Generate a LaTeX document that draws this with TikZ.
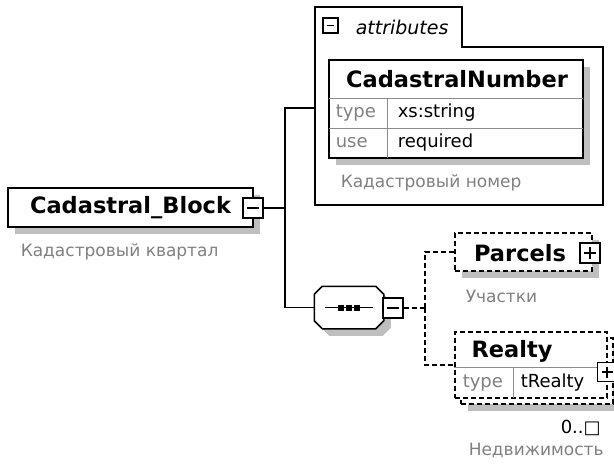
\documentclass[tikz,border=0pt]{standalone}
\usepackage{fontspec}
\setmainfont{DejaVu Sans}
\usetikzlibrary{positioning,shadows}

\begin{document}
\begin{tikzpicture}[x=1pt,y=-1pt,line width=1.5pt,
    elem/.style={draw,fill=white,inner sep=0,font=\fontsize{22.5}{26}\selectfont\bfseries},
    shade/.style={drop shadow={shadow xshift=7pt,shadow yshift=-7pt,fill=black!25,opacity=1}},
    opt/.style={elem,dash pattern=on 5pt off 3pt},
    pmbox/.style={draw,fill=white,inner sep=0,minimum size=20pt,line width=1.2pt},
    minus/.style={pmbox,path picture={\draw[line width=1.2pt] ([xshift=4pt]path picture bounding box.west) -- ([xshift=-4pt]path picture bounding box.east);}},
    plus/.style={pmbox,path picture={\draw[line width=1.2pt] ([xshift=4pt]path picture bounding box.west) -- ([xshift=-4pt]path picture bounding box.east) ([yshift=-4pt]path picture bounding box.north) -- ([yshift=4pt]path picture bounding box.south);}},
    note/.style={anchor=west,inner sep=0,text=black!50,font=\fontsize{17}{20}\selectfont},
    cell/.style={anchor=west,inner sep=0,font=\fontsize{18}{21}\selectfont}]
    \useasboundingbox (0,0) rectangle (614,466);

    % root element
    \node[elem,shade,minimum width=245pt,minimum height=39pt] (block) at (130.5,207.5) {Cadastral\_Block};
    \node[minus] (blockpm) at (253,208) {};
    \node[note] (blocknote) at (20,252) {Кадастровый квартал};

    % attributes
    \draw (315,7) -- (462,7) -- (462,47) -- (603,47) -- (603,205) -- (315,205) -- cycle;
    \node[minus,minimum size=15pt] (attrpm) at (330.5,25.5) {};
    \node[anchor=west,inner sep=0,font=\fontsize{19}{22}\selectfont\itshape] (attrlbl) at (355,27) {attributes};
    \coordinate (attrin) at (315,108);
    \node[elem,shade,minimum width=254pt,minimum height=98pt] (cnum) at (456,109) {};
    \node[font=\fontsize{22.5}{26}\selectfont\bfseries] (cnumname) at (457,79) {CadastralNumber};
    \draw[black!45,line width=1pt] (329,98) -- (583,98) (329,128) -- (583,128) (387,98) -- (387,158);
    \node[cell,text=black!50] (cnumtype) at (335,113) {type};
    \node[cell] (cnumtypev) at (397,113) {xs:string};
    \node[cell,text=black!50] (cnumuse) at (335,143) {use};
    \node[cell] (cnumusev) at (397,143) {required};
    \node[note] (cnumnote) at (340,183) {Кадастровый номер};

    % sequence
    \node[inner sep=0,minimum width=68pt,minimum height=41pt] (seq) at (349,307.5) {};
    \fill[black!25,transform canvas={xshift=7pt,yshift=-7pt}] ([xshift=8pt]seq.north west) -- ([xshift=-8pt]seq.north east) -- ([yshift=-8pt]seq.north east)
        -- ([yshift=8pt]seq.south east) -- ([xshift=-8pt]seq.south east) -- ([xshift=8pt]seq.south west)
        -- ([yshift=8pt]seq.south west) -- ([yshift=-8pt]seq.north west) -- cycle;
    \draw[fill=white] ([xshift=8pt]seq.north west) -- ([xshift=-8pt]seq.north east) -- ([yshift=-8pt]seq.north east)
        -- ([yshift=8pt]seq.south east) -- ([xshift=-8pt]seq.south east) -- ([xshift=8pt]seq.south west)
        -- ([yshift=8pt]seq.south west) -- ([yshift=-8pt]seq.north west) -- cycle;
    \draw ([xshift=-24pt]seq.center) -- ([xshift=24pt]seq.center);
    \foreach \dx in {-8,0,8}
        \fill ([xshift=\dx pt]seq.center) +(-3pt,-3pt) rectangle +(3pt,3pt);
    \node[minus] (seqpm) at (393,308) {};

    % child elements
    \node[opt,shade,minimum width=137pt,minimum height=38pt] (parcels) at (523.5,252) {};
    \node[font=\fontsize{22.5}{26}\selectfont\bfseries] (parcelsname) at (520,253) {Parcels};
    \node[plus] (parcelspm) at (590,253) {};
    \node[note] (parcelsnote) at (465,296) {Участки};

    \node[opt,shade,minimum width=152pt,minimum height=66pt] (realtyback) at (537,371) {};
    \node[opt,minimum width=152pt,minimum height=66pt] (realty) at (531,365) {};
    \node[font=\fontsize{22.5}{26}\selectfont\bfseries] (realtyname) at (512,351) {Realty};
    \draw[black!45,line width=1pt] (realty.west |- 0,367) -- (realty.east |- 0,367) (513,367) -- (513,398);
    \node[cell,text=black!50] (realtytype) at (462,383) {type};
    \node[cell] (realtytypev) at (520,383) {tRealty};
    \node[plus,minimum size=19pt] (realtypm) at (607,372) {};
    \node[cell] (realtyocc) at (560,428) {0..□};
    \node[note] (realtynote) at (468,450) {Недвижимость};

    % connectors
    \coordinate (fork) at (285,208);
    \coordinate (split) at (425,308);
    \draw (blockpm.east) -- (fork);
    \draw (fork) |- (attrin);
    \draw (fork) |- (seq.west);
    \draw[dash pattern=on 5pt off 3pt] (seqpm.east) -- (split);
    \draw[dash pattern=on 5pt off 3pt] (split) |- (parcels.west);
    \draw[dash pattern=on 5pt off 3pt] (split) |- (realty.west);
\end{tikzpicture}
\end{document}
